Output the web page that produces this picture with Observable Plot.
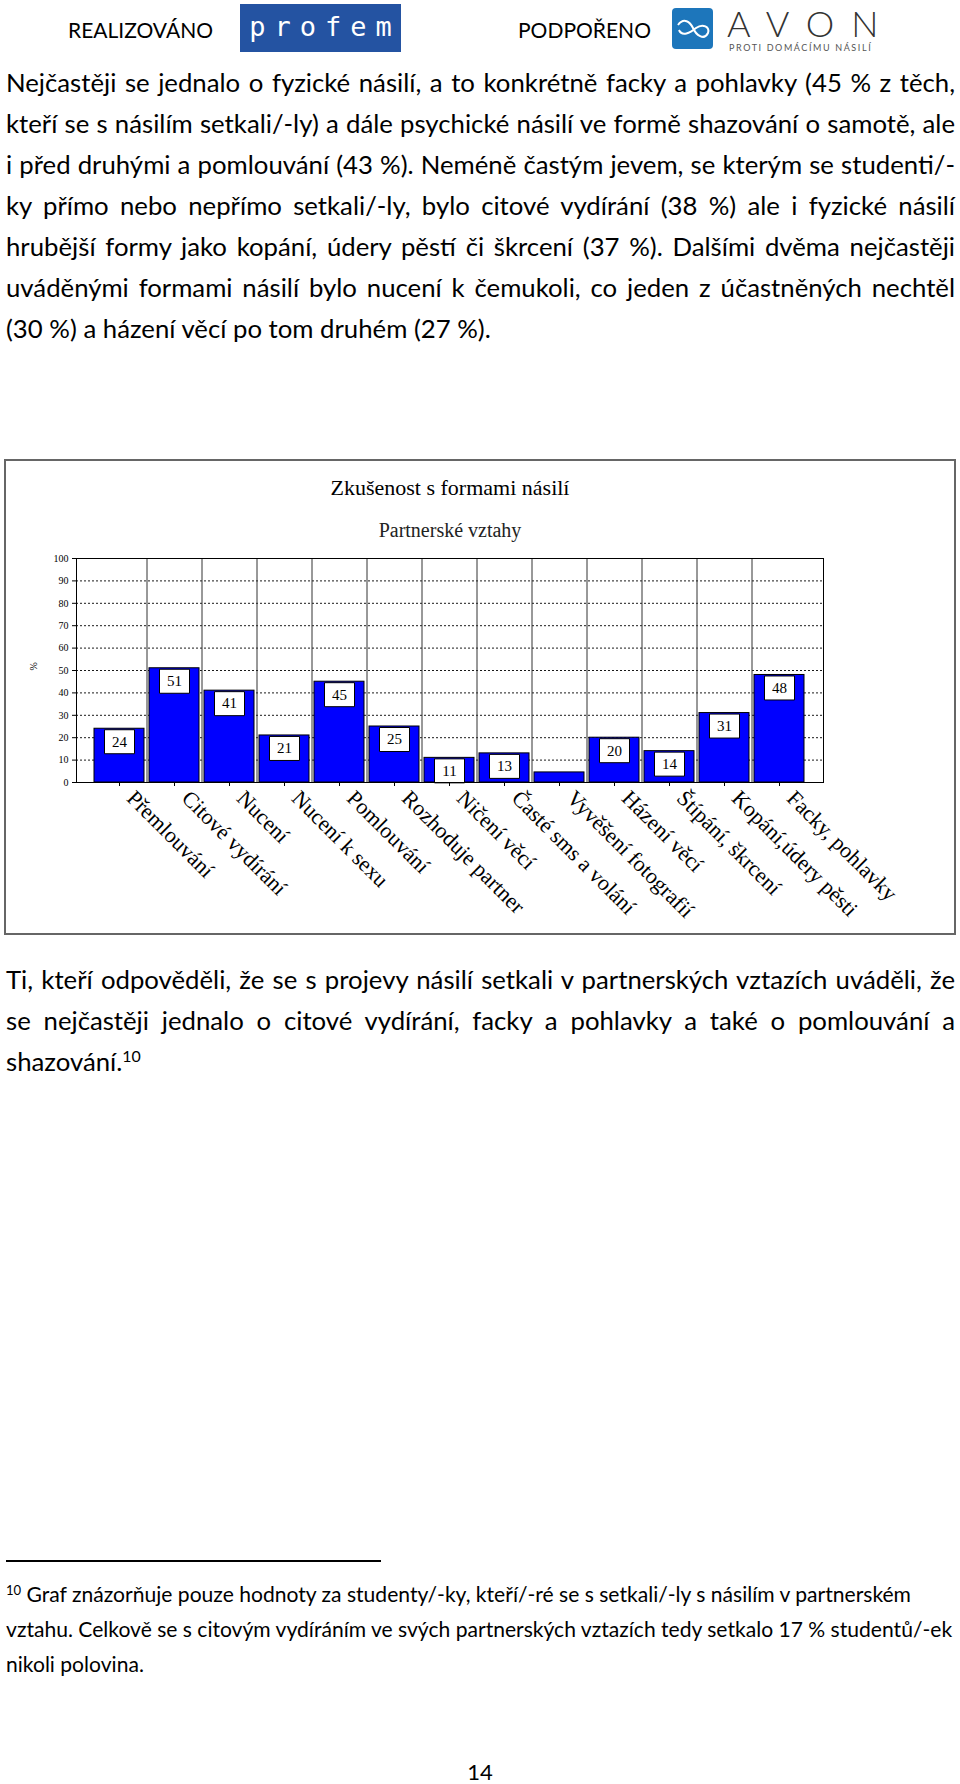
<!DOCTYPE html>
<html><head><meta charset="utf-8">
<script src="https://cdn.jsdelivr.net/npm/d3@7"></script>
<script src="https://cdn.jsdelivr.net/npm/@observablehq/plot@0.6"></script>
<style>
html,body{margin:0;padding:0;background:#fff;}
body{width:960px;height:1784px;position:relative;overflow:hidden;font-family:Lato,"Open Sans",sans-serif;color:#000;}
.abs{position:absolute;white-space:nowrap;}
.ln{position:absolute;left:6px;white-space:nowrap;display:inline-block;}
sup{font-size:0.62em;vertical-align:0;position:relative;top:-0.55em;}
#chartbox{position:absolute;left:4px;top:459px;width:952px;height:476px;box-sizing:border-box;border:2px solid #666;}
#chart{position:absolute;left:0;top:440px;}
</style></head><body>
<div class="abs" style="left:68px;top:20px;font-size:21px;line-height:20px;">REALIZOVÁNO</div>
<div class="abs" style="left:240px;top:4px;width:161px;height:48px;background:#2453a2;color:#fff;font-family:'DejaVu Sans Mono',monospace;font-size:27px;line-height:46px;text-align:center;letter-spacing:9px;text-indent:9px;">profem</div>
<div class="abs" style="left:518px;top:20px;font-size:21px;line-height:20px;">PODPOŘENO</div>
<svg class="abs" style="left:672px;top:8px" width="41" height="41" viewBox="0 0 41 41"><rect x="0" y="0" width="41" height="41" rx="4" fill="#1d76bb"/><path d="M6,17 C12,9 18,14 21,20 C24,27 32,33 36,25 C38,19 31,15 24,20 C18,25 10,29 7,22" fill="none" stroke="#fff" stroke-width="2"/></svg>
<div class="abs" style="left:727px;top:8px;font-size:36px;line-height:30px;font-weight:300;letter-spacing:17px;color:#333;">AVON</div>
<div class="abs" style="left:729px;top:43px;font-size:9px;line-height:10px;letter-spacing:1.6px;color:#555;">PROTI DOMÁCÍMU NÁSILÍ</div>

<div id="chartbox"></div>
<div id="chart"></div>
<div id="text"></div>

<script>
// ---------- data ----------
const categories = ["Přemlouvání","Citové vydírání","Nucení","Nucení k sexu","Pomlouvání","Rozhoduje partner","Ničení věcí","Časté sms a volání","Vyvěšení fotografií","Házení věcí","Štípání, škrcení","Kopání,údery pěsti","Facky, pohlavky"];
const values = [24, 51, 41, 21, 45, 25, 11, 13, 4.5, 20, 14, 31, 48];
const yTicks = [0, 10, 20, 30, 40, 50, 60, 70, 80, 90, 100];
const chartTitle = "Zkušenost s formami násilí";
const chartSubtitle = "Partnerské vztahy";
const yLabel = "%";

const para1Lines = [
  "Nejčastěji se jednalo o fyzické násilí, a to konkrétně facky a pohlavky (45 % z těch,",
  "kteří se s násilím setkali/-ly) a dále psychické násilí ve formě shazování o samotě, ale",
  "i před druhými a pomlouvání (43 %). Neméně častým jevem, se kterým se studenti/-",
  "ky přímo nebo nepřímo setkali/-ly, bylo citové vydírání (38 %) ale i fyzické násilí",
  "hrubější formy jako kopání, údery pěstí či škrcení (37 %). Dalšími dvěma nejčastěji",
  "uváděnými formami násilí bylo nucení k čemukoli, co jeden z účastněných nechtěl",
  "(30 %) a házení věcí po tom druhém (27 %)."
];
const para2Lines = [
  "Ti, kteří odpověděli, že se s projevy násilí setkali v partnerských vztazích uváděli, že",
  "se nejčastěji jednalo o citové vydírání, facky a pohlavky a také o pomlouvání a",
  "shazování."
];
const footnoteMark = "10";
const footnoteLines = [
  " Graf znázorňuje pouze hodnoty za studenty/-ky, kteří/-ré se s setkali/-ly s násilím v partnerském",
  "vztahu. Celkově se s citovým vydíráním ve svých partnerských vztazích tedy setkalo 17 % studentů/-ek",
  "nikoli polovina."
];
const pageNumber = "14";

// ---------- chart ----------
const data = categories.map((c, i) => ({category: c, value: values[i]}));
const labelled = data.filter(d => d.value >= 10);
const serif = "'Liberation Serif','Times New Roman',serif";
const boxSymbol = {draw(ctx) { ctx.moveTo(-15, -12); ctx.lineTo(15, -12); ctx.lineTo(15, 12); ctx.lineTo(-15, 12); ctx.closePath(); }};

const chart = Plot.plot({
  width: 960, height: 500,
  marginLeft: 76, marginRight: 137, marginTop: 118, marginBottom: 158,
  style: {fontFamily: serif, background: "transparent", color: "#000"},
  x: {type: "band", domain: categories, range: [91.5, 806.5], paddingInner: 0.09, paddingOuter: 0.045, label: null},
  y: {domain: [0, 100], label: null},
  marks: [
    Plot.gridY(yTicks, {stroke: "#000", strokeOpacity: 0.9, strokeDasharray: "2,2"}),
    Plot.ruleX(categories.slice(0, -1), {dx: 27.5, stroke: "#333", strokeWidth: 1}),
    Plot.barY(data, {x: "category", y: "value", fill: "#0000ff", stroke: "#000", strokeWidth: 1}),
    Plot.dot(labelled, {x: "category", y: "value", symbol: boxSymbol, fill: "#fff", stroke: "#000", strokeWidth: 1, dy: 13}),
    Plot.text(labelled, {x: "category", y: "value", text: d => String(d.value), dy: 13, fontSize: 15, fill: "#000"}),
    Plot.frame({stroke: "#000"}),
    Plot.axisY({ticks: yTicks, tickSize: 4, tickPadding: 4, fontSize: 10, label: null}),
    Plot.axisX({tickSize: 4, tickFormat: () => "", label: null}),
    Plot.axisX({tickSize: 0, tickRotate: 45, textAnchor: "start", tickPadding: 12, dx: 11, fontSize: 22, label: null}),
    Plot.text([yLabel], {frameAnchor: "left", dx: -43, rotate: -90, fontSize: 10, text: d => d}),
    Plot.text([chartTitle], {frameAnchor: "top", dy: -64, lineAnchor: "bottom", fontSize: 22, text: d => d}),
    Plot.text([chartSubtitle], {frameAnchor: "top", dy: -22, lineAnchor: "bottom", fontSize: 20, fill: "#222", text: d => d})
  ]
});
document.getElementById("chart").appendChild(chart);

// ---------- text ----------
const host = document.getElementById("text");
function addLine(html) {
  const s = document.createElement("span");
  s.className = "ln";
  s.innerHTML = html;
  host.appendChild(s);
  return s;
}
function place(el, fs, baseline, lh) {
  el.style.fontSize = fs + "px";
  el.style.lineHeight = lh + "px";
  el.style.top = (baseline - (lh / 2 + 0.387 * fs)) + "px";
}
function justify(el, target) {
  el.style.wordSpacing = "0px";
  const w = el.getBoundingClientRect().width;
  const n = (el.textContent.match(/ /g) || []).length;
  if (n) el.style.wordSpacing = ((target - w) / n) + "px";
}
const p1 = para1Lines.map(t => addLine(t));
const p2 = para2Lines.map((t, i) => addLine(i === para2Lines.length - 1 ? t + "<sup>" + footnoteMark + "</sup>" : t));
const fn = footnoteLines.map((t, i) => addLine(i === 0 ? "<sup>" + footnoteMark + "</sup>" + t : t));

p1[p1.length - 1].style.fontSize = "22px";
const wLast = p1[p1.length - 1].getBoundingClientRect().width;
const fsP = 22 * 485 / wLast;
p1.forEach((el, i) => place(el, fsP, 92.5 + 41 * i, 41));
p2.forEach((el, i) => place(el, fsP, 989 + 41 * i, 41));
p1.slice(0, -1).forEach(el => justify(el, 949));
p2.slice(0, -1).forEach(el => justify(el, 949));

fn[1].style.fontSize = "19px";
const wF = fn[1].getBoundingClientRect().width;
const fsF = 19 * 947 / wF;
fn.forEach((el, i) => place(el, fsF, 1602 + 35 * i, 35));

const rule = document.createElement("div");
rule.style.cssText = "position:absolute;left:6px;top:1560px;width:375px;height:1.5px;background:#000;";
host.appendChild(rule);

const pn = addLine(pageNumber);
place(pn, 22, 1781, 30);
pn.style.left = (480 - pn.getBoundingClientRect().width / 2) + "px";
</script>
</body></html>
